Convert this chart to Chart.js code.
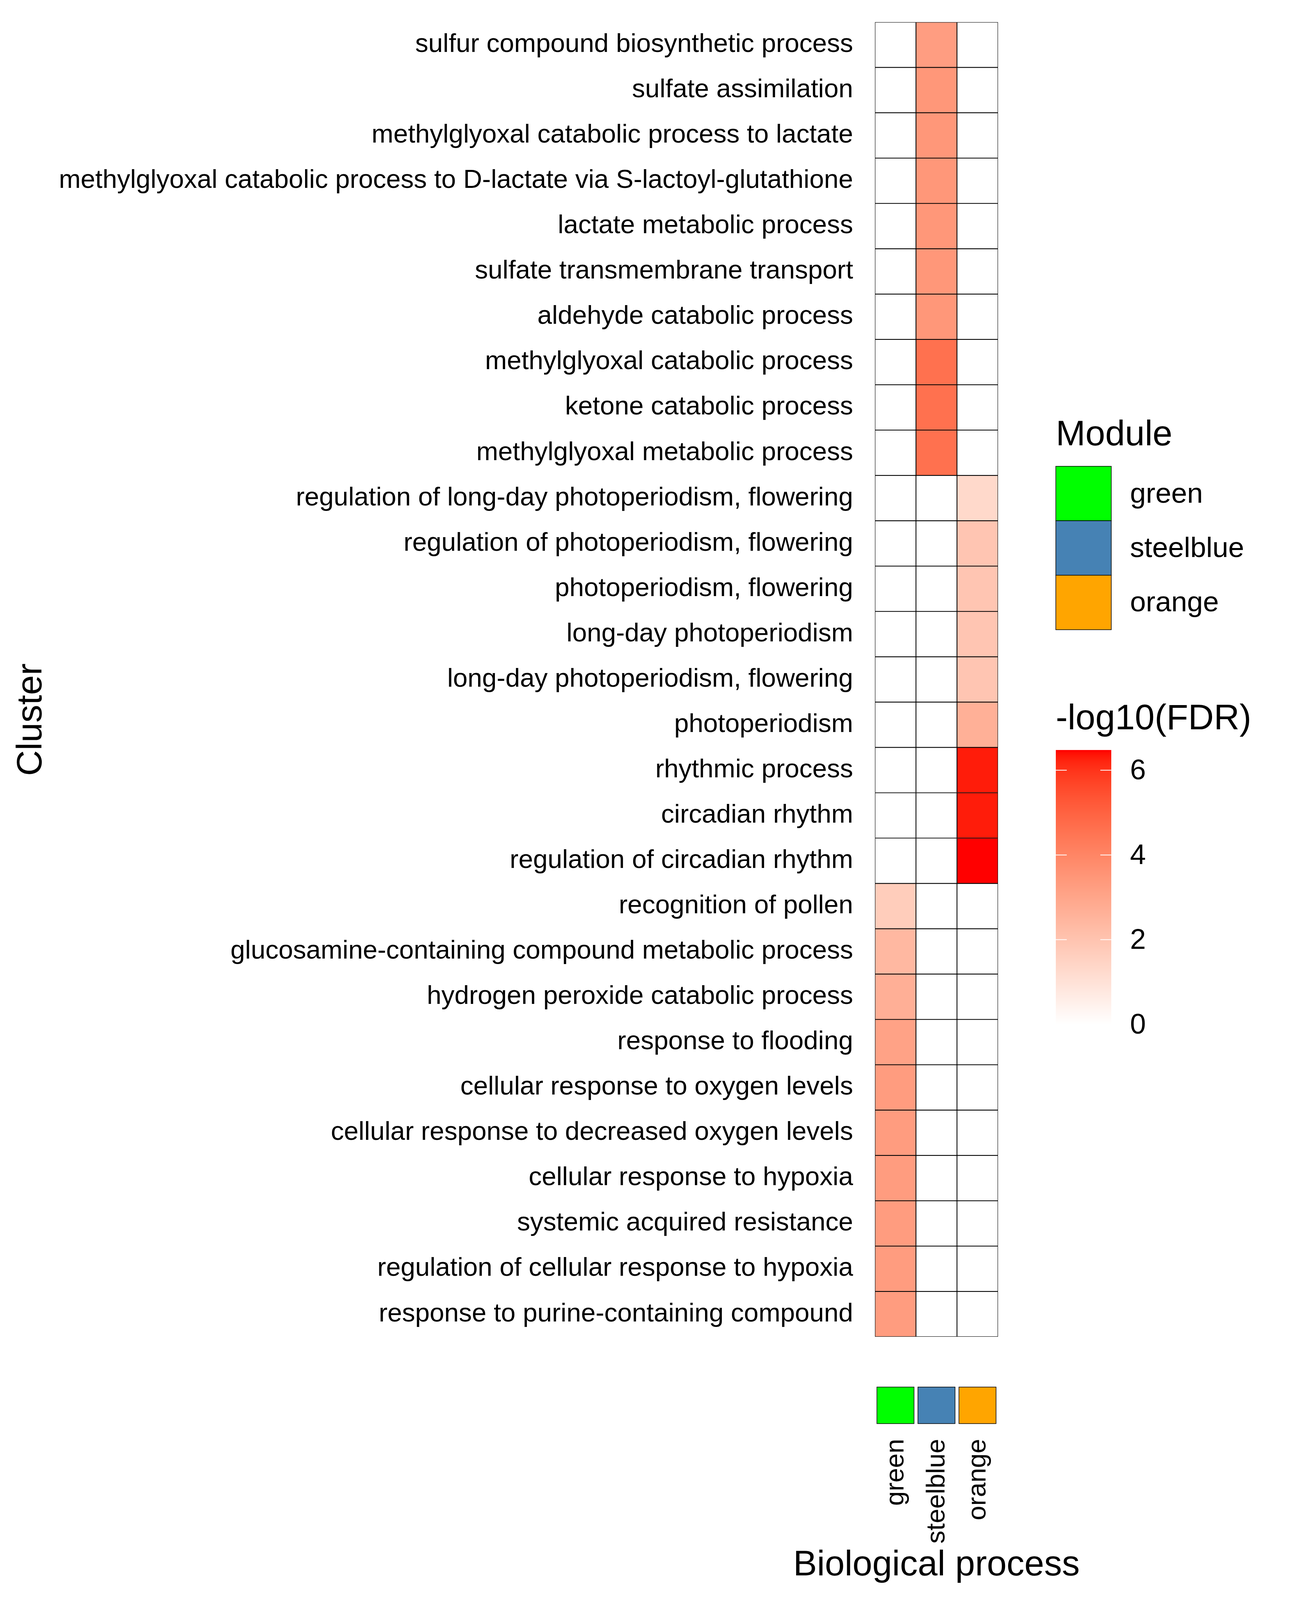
<!DOCTYPE html>
<html>
<head>
<meta charset="utf-8">
<script src="https://cdn.jsdelivr.net/npm/chart.js@4.4.1/dist/chart.umd.min.js"></script>
<style>
  html, body { margin: 0; padding: 0; background: #fff; overflow: hidden; }
  canvas { display: block; }
</style>
</head>
<body>
<canvas id="heatmap" width="3300" height="4200"></canvas>
<script>
// GO terms, top to bottom
const processes = [
  "sulfur compound biosynthetic process",
  "sulfate assimilation",
  "methylglyoxal catabolic process to lactate",
  "methylglyoxal catabolic process to D-lactate via S-lactoyl-glutathione",
  "lactate metabolic process",
  "sulfate transmembrane transport",
  "aldehyde catabolic process",
  "methylglyoxal catabolic process",
  "ketone catabolic process",
  "methylglyoxal metabolic process",
  "regulation of long-day photoperiodism, flowering",
  "regulation of photoperiodism, flowering",
  "photoperiodism, flowering",
  "long-day photoperiodism",
  "long-day photoperiodism, flowering",
  "photoperiodism",
  "rhythmic process",
  "circadian rhythm",
  "regulation of circadian rhythm",
  "recognition of pollen",
  "glucosamine-containing compound metabolic process",
  "hydrogen peroxide catabolic process",
  "response to flooding",
  "cellular response to oxygen levels",
  "cellular response to decreased oxygen levels",
  "cellular response to hypoxia",
  "systemic acquired resistance",
  "regulation of cellular response to hypoxia",
  "response to purine-containing compound"
];

const modules = ["green", "steelblue", "orange"];
const moduleColors = ["#00FF00", "#4682B4", "#FFA500"];

// -log10(FDR) per module, same order as processes
const greenFDR = [
  0, 0, 0, 0, 0, 0, 0, 0, 0, 0,
  0, 0, 0, 0, 0, 0, 0, 0, 0,
  1.7, 2.4, 2.67, 3.1, 3.3, 3.3, 3.3, 3.3, 3.3, 3.3
];
const steelblueFDR = [
  3.25, 3.45, 3.45, 3.45, 3.45, 3.45, 3.45, 4.6, 4.6, 4.6,
  0, 0, 0, 0, 0, 0, 0, 0, 0,
  0, 0, 0, 0, 0, 0, 0, 0, 0, 0
];
const orangeFDR = [
  0, 0, 0, 0, 0, 0, 0, 0, 0, 0,
  1.3, 1.95, 1.95, 1.95, 1.95, 2.65, 6.3, 6.3, 6.47,
  0, 0, 0, 0, 0, 0, 0, 0, 0, 0
];

const fdrTicks = [0, 2, 4, 6];
const fdrMin = 0;
const fdrMax = 6.47;

const FONT = "'Liberation Sans', Arial, 'DejaVu Sans', sans-serif";

// the layout was measured on a 4200px tall page; squeeze it to the real viewport
const canvas = document.getElementById("heatmap");
const pageH = Math.min(4200, window.innerHeight || 4200);
canvas.height = pageH;
const sy = pageH / 4200;
const Y = v => v * sy;

// white -> red, interpolated in Lab like ggplot's scale_fill_gradient
function toLinear(c) {
  c /= 255;
  return c <= 0.04045 ? c / 12.92 : Math.pow((c + 0.055) / 1.055, 2.4);
}
function fromLinear(c) {
  c = Math.max(0, Math.min(1, c));
  const s = c <= 0.0031308 ? 12.92 * c : 1.055 * Math.pow(c, 1 / 2.4) - 0.055;
  return Math.round(255 * s);
}
const WX = 0.95047, WY = 1.0, WZ = 1.08883;
function rgbToLab(rgb) {
  const r = toLinear(rgb[0]), g = toLinear(rgb[1]), b = toLinear(rgb[2]);
  const x = (0.4124 * r + 0.3576 * g + 0.1805 * b) / WX;
  const y = (0.2126 * r + 0.7152 * g + 0.0722 * b) / WY;
  const z = (0.0193 * r + 0.1192 * g + 0.9505 * b) / WZ;
  const f = t => t > 216 / 24389 ? Math.cbrt(t) : (24389 / 27 * t + 16) / 116;
  const fx = f(x), fy = f(y), fz = f(z);
  return [116 * fy - 16, 500 * (fx - fy), 200 * (fy - fz)];
}
function labToRgb(lab) {
  const fy = (lab[0] + 16) / 116, fx = fy + lab[1] / 500, fz = fy - lab[2] / 200;
  const inv = t => t * t * t > 216 / 24389 ? t * t * t : (116 * t - 16) / (24389 / 27);
  const x = inv(fx) * WX, y = inv(fy) * WY, z = inv(fz) * WZ;
  const r = 3.2406 * x - 1.5372 * y - 0.4986 * z;
  const g = -0.9689 * x + 1.8758 * y + 0.0415 * z;
  const b = 0.0557 * x - 0.2040 * y + 1.0570 * z;
  return [fromLinear(r), fromLinear(g), fromLinear(b)];
}
const labLow = rgbToLab([255, 255, 255]);
const labHigh = rgbToLab([255, 0, 0]);
function fdrColour(v) {
  const t = Math.max(0, Math.min(1, (v - fdrMin) / (fdrMax - fdrMin)));
  const lab = labLow.map((l, i) => l + (labHigh[i] - l) * t);
  const c = labToRgb(lab);
  return `rgb(${c[0]}, ${c[1]}, ${c[2]})`;
}

const seriesFDR = [greenFDR, steelblueFDR, orangeFDR];

const datasets = modules.map((m, col) => ({
  label: m,
  data: processes.map(() => [col, col + 1]),
  backgroundColor: seriesFDR[col].map(fdrColour),
  borderColor: "#000000",
  borderWidth: 1.4,
  borderSkipped: false,
  grouped: false,
  barPercentage: 1,
  categoryPercentage: 1
}));

// titles, bottom module strip and the two legends
const decorations = {
  id: "decorations",
  afterDraw(chart) {
    const ctx = chart.ctx;
    const area = chart.chartArea;
    const x = chart.scales.x;
    ctx.save();

    // axis titles
    ctx.fillStyle = "#000";
    ctx.font = `91px ${FONT}`;
    ctx.textAlign = "center";
    ctx.textBaseline = "alphabetic";
    ctx.fillText("Biological process", (area.left + area.right) / 2, Y(4135));

    ctx.textBaseline = "middle";
    ctx.translate(81, Y(1889));
    ctx.rotate(-Math.PI / 2);
    ctx.fillText("Cluster", 0, 0);
    ctx.setTransform(1, 0, 0, 1, 0, 0);

    // module strip under the heatmap
    const stripTop = area.bottom + Y(132);
    const stripH = Y(96);
    modules.forEach((m, i) => {
      const x0 = x.getPixelForValue(i) + 5;
      const x1 = x.getPixelForValue(i + 1) - 5;
      ctx.fillStyle = moduleColors[i];
      ctx.fillRect(x0, stripTop, x1 - x0, stripH);
      ctx.strokeStyle = "#000";
      ctx.lineWidth = 1.5;
      ctx.strokeRect(x0, stripTop, x1 - x0, stripH);

      ctx.save();
      ctx.translate(x.getPixelForValue(i + 0.5) + 2, area.bottom + Y(268));
      ctx.rotate(-Math.PI / 2);
      ctx.fillStyle = "#000";
      ctx.font = `67px ${FONT}`;
      ctx.textAlign = "right";
      ctx.textBaseline = "middle";
      ctx.fillText(m, 0, 0);
      ctx.restore();
    });

    // Module legend
    const lx = 2703, kw = 142, kh = Y(143);
    ctx.fillStyle = "#000";
    ctx.font = `91px ${FONT}`;
    ctx.textAlign = "left";
    ctx.textBaseline = "alphabetic";
    ctx.fillText("Module", lx, Y(1169));
    modules.forEach((m, i) => {
      const ky = Y(1224) + i * kh;
      ctx.fillStyle = moduleColors[i];
      ctx.fillRect(lx, ky, kw, kh);
      ctx.strokeStyle = "#000";
      ctx.lineWidth = 1.5;
      ctx.strokeRect(lx, ky, kw, kh);
      ctx.fillStyle = "#000";
      ctx.font = `73px ${FONT}`;
      ctx.textBaseline = "middle";
      ctx.fillText(m, 2893, ky + kh / 2 + 3);
    });

    // -log10(FDR) colour bar
    ctx.textBaseline = "alphabetic";
    ctx.font = `91px ${FONT}`;
    ctx.fillText("-log10(FDR)", lx, Y(1914));
    const perUnit = Y(111.2);
    const barBottom = Y(2689);
    const barTop = barBottom - (fdrMax - fdrMin) * perUnit;
    for (let py = Math.floor(barTop); py < barBottom; py++) {
      const v = fdrMin + (barBottom - py - 0.5) / perUnit;
      ctx.fillStyle = fdrColour(v);
      ctx.fillRect(lx, py, kw, 1);
    }
    ctx.strokeStyle = "#FFFFFF";
    ctx.lineWidth = 2;
    ctx.font = `73px ${FONT}`;
    ctx.textBaseline = "middle";
    fdrTicks.forEach(t => {
      const ty = barBottom - (t - fdrMin) * perUnit;
      ctx.beginPath();
      ctx.moveTo(lx, ty); ctx.lineTo(lx + 28, ty);
      ctx.moveTo(lx + kw - 28, ty); ctx.lineTo(lx + kw, ty);
      ctx.stroke();
      ctx.fillStyle = "#000";
      ctx.fillText(String(t), 2893, ty + 3);
    });

    ctx.restore();
  }
};

new Chart(canvas, {
  type: "bar",
  data: { labels: processes, datasets },
  plugins: [decorations],
  options: {
    indexAxis: "y",
    responsive: false,
    devicePixelRatio: 1,
    animation: false,
    layout: { padding: { top: Y(58), right: 745, bottom: 0, left: 0 } },
    plugins: {
      legend: { display: false },
      tooltip: { enabled: false },
      title: { display: false }
    },
    scales: {
      y: {
        type: "category",
        grid: { display: false, drawTicks: false },
        border: { display: false },
        ticks: {
          autoSkip: false,
          color: "#000",
          padding: 56,
          font: { family: FONT, size: 67 }
        },
        afterFit(scale) {
          scale.width = 2240;
          scale.paddingTop = 0;
          scale.paddingBottom = 0;
        }
      },
      x: {
        type: "linear",
        min: 0,
        max: 3,
        position: "bottom",
        grid: { display: false, drawTicks: false },
        border: { display: false },
        ticks: { display: false },
        title: { display: false },
        afterFit(scale) { scale.height = Y(691); }
      }
    }
  }
});
</script>
</body>
</html>
